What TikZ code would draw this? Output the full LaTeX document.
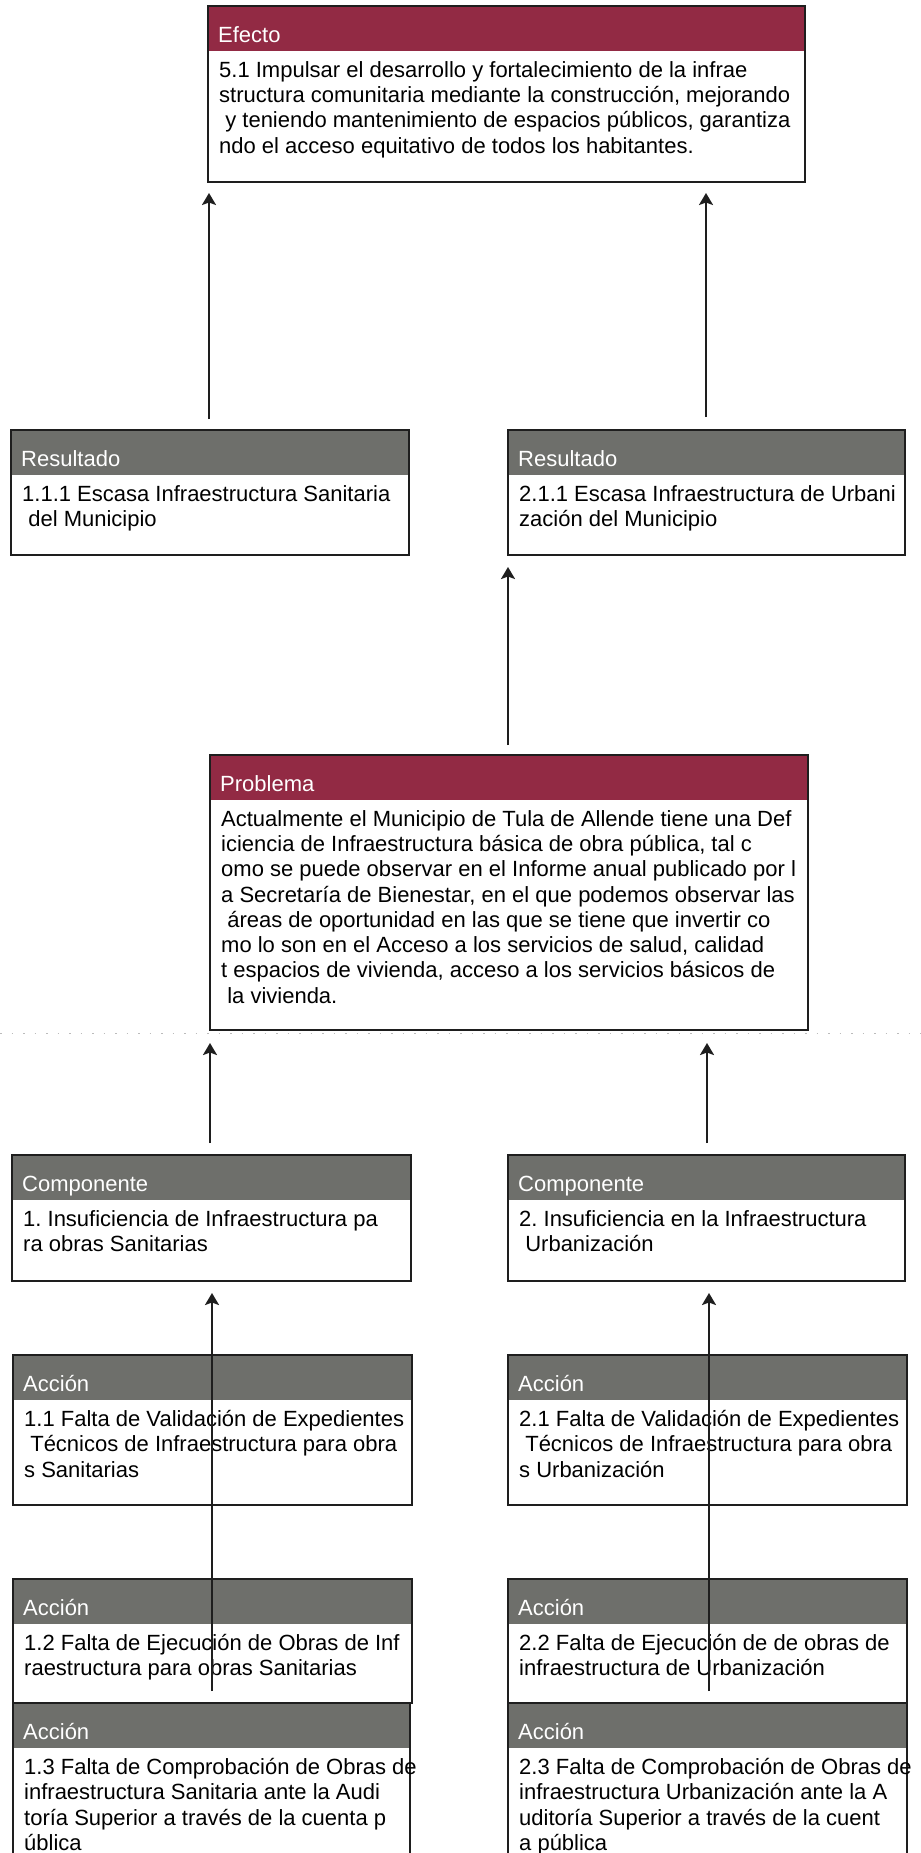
\documentclass[tikz,border=0pt]{standalone}
\usepackage{fontspec}
\setmainfont{Liberation Sans}
\usetikzlibrary{arrows.meta}
\definecolor{hdred}{HTML}{922A44}
\definecolor{hdgray}{HTML}{6E6F6B}
\definecolor{lnc}{HTML}{1E1E1E}
\definecolor{dotc}{HTML}{BBBBBB}
\frenchspacing
\newcommand\lsp{\hspace*{0.278em}}
\newcommand\panel[7]{%
 \node[pframe, minimum width={(#4-#2)*1pt}, minimum height={(#5-#3)*1pt}] (#1) at (#2,#3) {};
 \node[pbar, fill=#6, minimum width={(#4-#2)*1pt}] (#1h) at (#1.north west) {};
 \draw[pline] (#1.north west) rectangle (#1.south east);
 \node[ptitle] (#1l) at ([shift={(10,36)}]#1.north west) {#7};
}
\tikzset{
 pframe/.style={draw=lnc, line width=2pt, fill=white, anchor=north west, inner sep=0pt, outer sep=0pt},
 pbar/.style={anchor=north west, inner sep=0pt, outer sep=0pt, minimum height=45pt},
 pline/.style={draw=lnc, line width=2pt},
 ptitle/.style={anchor=base west, inner sep=0pt, text=white, font=\fontsize{22}{25.3}\selectfont\frenchspacing},
 pbody/.style={anchor=north west, inner sep=0pt, align=left, text=black, font=\fontsize{22}{25.3}\selectfont\frenchspacing},
 uparrow/.style={draw=lnc, line width=2.2pt, -{Stealth[length=12pt,width=14pt,inset=2.5pt]}},
}
\begin{document}
\begin{tikzpicture}[x=1pt,y=-1pt]
\useasboundingbox[fill=white] (0,0) rectangle (921,1853);
% faint dotted scan line
\coordinate (dl) at (0,1033);
\coordinate (dr) at (921,1033);
\draw[dotc, line width=1pt, dash pattern=on 1.5pt off 10pt] (dl) -- (dr);

% x positions of connectors
\coordinate (xa) at (209,0);
\coordinate (xb) at (706,0);
\coordinate (xc) at (508,0);
\coordinate (xd) at (210,0);
\coordinate (xe) at (707,0);
\coordinate (xf) at (212,0);
\coordinate (xg) at (709,0);

% Efecto
\panel{efecto}{208}{6}{805}{182}{hdred}{Efecto}
\node[pbody] (efectot) at ([shift={(11,55)}]efecto.north west) {5.1 Impulsar el desarrollo y fortalecimiento de la infrae\\structura comunitaria mediante la construcción, mejorando\\\lsp y teniendo mantenimiento de espacios públicos, garantiza\\ndo el acceso equitativo de todos los habitantes.};

% Resultados
\panel{resL}{11}{430}{409}{555}{hdgray}{Resultado}
\node[pbody] (resLt) at ([shift={(11,55)}]resL.north west) {1.1.1 Escasa Infraestructura Sanitaria\\\lsp del Municipio};
\panel{resR}{508}{430}{905}{555}{hdgray}{Resultado}
\node[pbody] (resRt) at ([shift={(11,55)}]resR.north west) {2.1.1 Escasa Infraestructura de Urbani\\zación del Municipio};

% Problema
\panel{prob}{210}{755}{808}{1030}{hdred}{Problema}
\node[pbody] (probt) at ([shift={(11,55)}]prob.north west) {Actualmente el Municipio de Tula de Allende tiene una Def\\iciencia de Infraestructura básica de obra pública, tal c\\omo se puede observar en el Informe anual publicado por l\\a Secretaría de Bienestar, en el que podemos observar las\\\lsp áreas de oportunidad en las que se tiene que invertir co\\mo lo son en el Acceso a los servicios de salud, calidad\\t espacios de vivienda, acceso a los servicios básicos de\\\lsp la vivienda.};

% Componentes
\panel{compL}{12}{1155}{411}{1281}{hdgray}{Componente}
\node[pbody] (compLt) at ([shift={(11,55)}]compL.north west) {1. Insuficiencia de Infraestructura pa\\ra obras Sanitarias};
\panel{compR}{508}{1155}{905}{1281}{hdgray}{Componente}
\node[pbody] (compRt) at ([shift={(11,55)}]compR.north west) {2. Insuficiencia en la Infraestructura\\\lsp Urbanización};

% Acciones
\panel{aL1}{13}{1355}{412}{1505}{hdgray}{Acción}
\node[pbody] (aL1t) at ([shift={(11,55)}]aL1.north west) {1.1 Falta de Validación de Expedientes\\\lsp Técnicos de Infraestructura para obra\\s Sanitarias};
\panel{aR1}{508}{1355}{907}{1505}{hdgray}{Acción}
\node[pbody] (aR1t) at ([shift={(11,55)}]aR1.north west) {2.1 Falta de Validación de Expedientes\\\lsp Técnicos de Infraestructura para obra\\s Urbanización};

\panel{aL2}{13}{1579}{412}{1703}{hdgray}{Acción}
\node[pbody] (aL2t) at ([shift={(11,55)}]aL2.north west) {1.2 Falta de Ejecución de Obras de Inf\\raestructura para obras Sanitarias};
\panel{aR2}{508}{1579}{907}{1703}{hdgray}{Acción}
\node[pbody] (aR2t) at ([shift={(11,55)}]aR2.north west) {2.2 Falta de Ejecución de de obras de\\infraestructura de Urbanización};

\panel{aL3}{13}{1703}{410}{1880}{hdgray}{Acción}
\node[pbody] (aL3t) at ([shift={(11,55)}]aL3.north west) {1.3 Falta de Comprobación de Obras de\\infraestructura Sanitaria ante la Audi\\toría Superior a través de la cuenta p\\ública};
\panel{aR3}{508}{1703}{907}{1880}{hdgray}{Acción}
\node[pbody] (aR3t) at ([shift={(11,55)}]aR3.north west) {2.3 Falta de Comprobación de Obras de\\infraestructura Urbanización ante la A\\uditoría Superior a través de la cuent\\a pública};

% connectors
\draw[uparrow, shorten <=11pt, shorten >=11pt] (resL.north -| xa) -- (efecto.south -| xa);
\draw[uparrow, shorten <=13pt, shorten >=11pt] (resR.north -| xb) -- (efecto.south -| xb);
\draw[uparrow, shorten <=10pt, shorten >=12pt] (prob.north -| xc) -- (resR.south -| xc);
\draw[uparrow, shorten <=12pt, shorten >=13pt] (compL.north -| xd) -- (prob.south -| xd);
\draw[uparrow, shorten <=12pt, shorten >=13pt] (compR.north -| xe) -- (prob.south -| xe);
\draw[uparrow, shorten <=12pt, shorten >=12pt] (aL2.south -| xf) -- (compL.south -| xf);
\draw[uparrow, shorten <=12pt, shorten >=12pt] (aR2.south -| xg) -- (compR.south -| xg);
\end{tikzpicture}
\end{document}
